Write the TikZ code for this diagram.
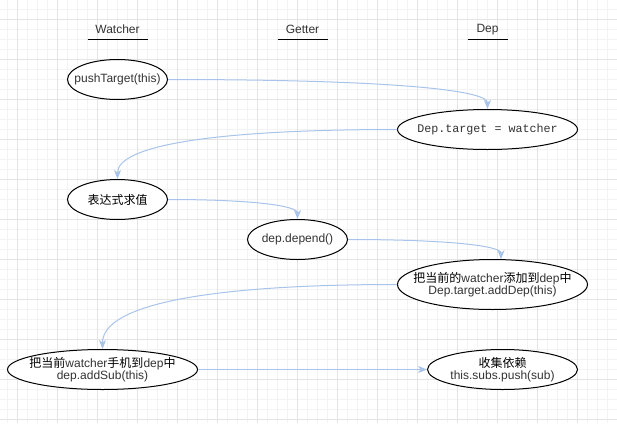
\documentclass[tikz,border=0pt]{standalone}
\usepackage{fontspec}
\setmainfont{Liberation Sans}
\newfontfamily\monofont{Liberation Mono}
\newfontfamily\cjk{Noto Sans CJK SC}
\usetikzlibrary{shapes.geometric,arrows.meta,calc}
\definecolor{txtgray}{HTML}{333333}
\definecolor{edgeblue}{HTML}{A9C4EB}
\definecolor{gridminor}{HTML}{F3F3F3}
\definecolor{gridmajor}{HTML}{E4E4E4}
\newcommand\zh[1]{{\cjk\color{black}#1}}
\tikzset{
  x=1pt, y=-1pt,
  oval/.style={ellipse, draw=black, line width=1pt, inner sep=0pt, fill=white},
  lbl/.style={font=\fontsize{12}{12.5}\selectfont, text=txtgray, align=center, inner sep=0pt},
  hdr/.style={font=\fontsize{12}{13}\selectfont, text=txtgray, inner sep=0pt},
  uline/.style={draw=black, line width=1pt},
  edge/.style={draw=edgeblue, line width=1pt, -{Stealth[length=9pt,width=7pt,inset=2.5pt]}},
  gmin/.style={draw=gridminor, line width=1pt},
  gmaj/.style={draw=gridmajor, line width=1pt}
}
\begin{document}
\begin{tikzpicture}
\useasboundingbox (0,0) rectangle (617,423);
\fill[white] (0,0) rectangle (617,423);
% grid
\foreach \i in {0,...,61} {\draw[gmin] ({7.5+10*\i},0) -- ++(0,423);}
\foreach \i in {0,...,41} {\draw[gmin] (0,{9.5+10*\i}) -- ++(617,0);}
\foreach \i in {0,...,15} {\draw[gmaj] ({17.5+40*\i},0) -- ++(0,423);}
\foreach \i in {0,...,10} {\draw[gmaj] (0,{19.5+40*\i}) -- ++(617,0);}

% headers
\node[hdr] (hw) at (117.5,29.5) {Watcher};
\node[hdr] (hg) at (302.5,29.5) {Getter};
\node[hdr] (hd) at (487.5,29.5) {Dep};
\coordinate (hwl) at (87.5,39.5);  \coordinate (hwr) at (147.5,39.5);
\coordinate (hgl) at (277.5,39.5); \coordinate (hgr) at (327.5,39.5);
\coordinate (hdl) at (467.5,39.5); \coordinate (hdr) at (507.5,39.5);
\draw[uline] (hwl) -- (hwr);
\draw[uline] (hgl) -- (hgr);
\draw[uline] (hdl) -- (hdr);

% ellipses
\node[oval, minimum width=100pt, minimum height=40pt] (push) at (117.5,79.5) {};
\node[lbl] (pusht) at (push) {pushTarget(this)};

\node[oval, minimum width=180pt, minimum height=40pt] (dtar) at (487.5,129.5) {};
\node[lbl, font=\monofont\fontsize{11.7}{12.5}\selectfont] (dtart) at (dtar) {Dep.target = watcher};

\node[oval, minimum width=100pt, minimum height=40pt] (expr) at (117.5,199.5) {};
\node[lbl] (exprt) at (expr) {\zh{表达式求值}};

\node[oval, minimum width=100pt, minimum height=40pt] (dep) at (297.5,239.5) {};
\node[lbl] (dept) at (dep) {dep.depend()};

\node[oval, minimum width=190pt, minimum height=50pt] (add) at (492.5,284.5) {};
\node[lbl] (addt) at (add) {\zh{把当前的}watcher\zh{添加到}dep\zh{中}\\Dep.target.addDep(this)};

\node[oval, minimum width=190pt, minimum height=40pt] (sub) at (102.5,369.5) {};
\node[lbl] (subt) at (sub) {\zh{把当前}watcher\zh{手机到}dep\zh{中}\\dep.addSub(this)};

\node[oval, minimum width=150pt, minimum height=40pt] (col) at (502.5,369.5) {};
\node[lbl] (colt) at (col) {\zh{收集依赖}\\this.subs.push(sub)};

% edges (quadratic curves as cubic)
\draw[edge] (push.east) .. controls ($(push.east)!0.6667!(dtar.north |- push.east)$) and ($(dtar.north)!0.6667!(dtar.north |- push.east)$) .. (dtar.north);
\draw[edge] (dtar.west) .. controls ($(dtar.west)!0.6667!(expr.north |- dtar.west)$) and ($(expr.north)!0.6667!(expr.north |- dtar.west)$) .. (expr.north);
\draw[edge] (expr.east) .. controls ($(expr.east)!0.6667!(dep.north |- expr.east)$) and ($(dep.north)!0.6667!(dep.north |- expr.east)$) .. (dep.north);
\coordinate (addin) at ($(add.north)+(8.5,0.2)$);
\draw[edge] (dep.east) .. controls ($(dep.east)!0.6667!(addin |- dep.east)$) and ($(addin)!0.6667!(addin |- dep.east)$) .. (addin);
\draw[edge] (add.west) .. controls ($(add.west)!0.6667!(sub.north |- add.west)$) and ($(sub.north)!0.6667!(sub.north |- add.west)$) .. (sub.north);
\draw[edge] (sub.east) -- (col.west);
\end{tikzpicture}
\end{document}
